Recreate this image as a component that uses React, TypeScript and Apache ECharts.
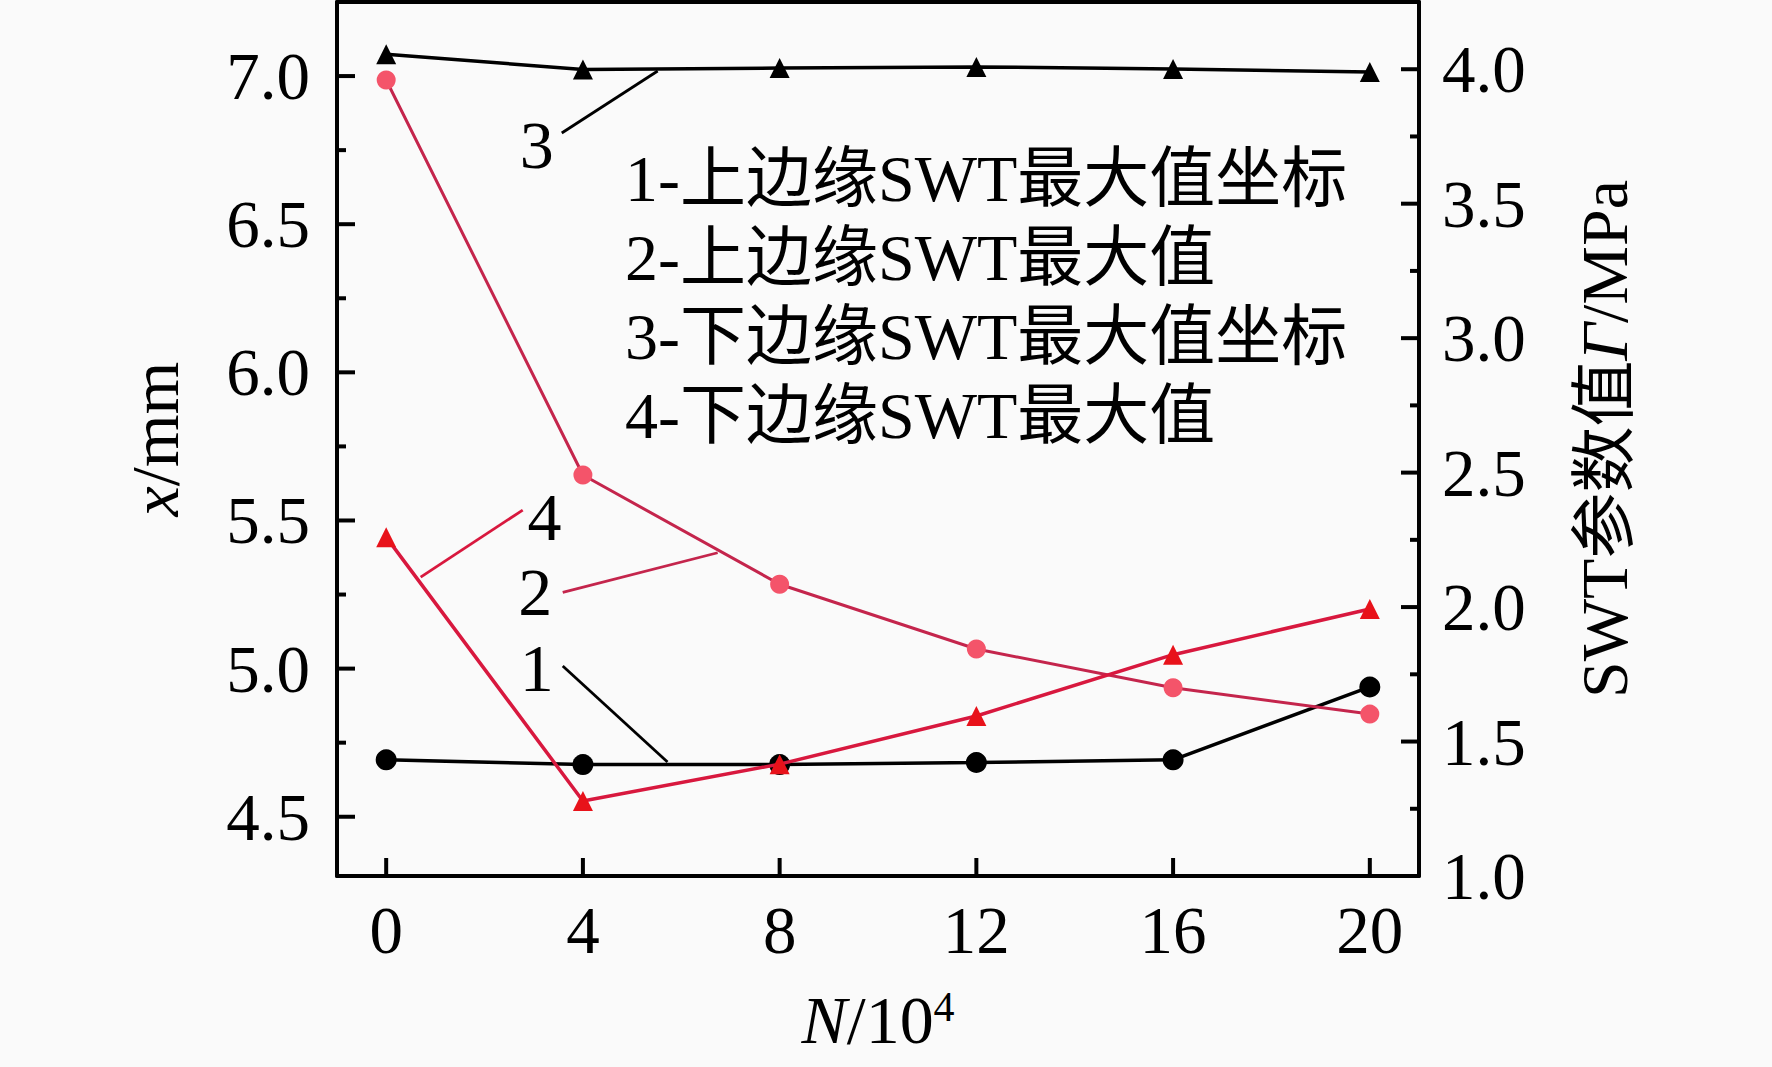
import React, { useEffect, useRef } from 'react';
import * as echarts from 'echarts';

// ---- data ----
const cycles = [0, 4, 8, 12, 16, 20]; // N / 10^4
const upperCoord = [4.692, 4.676, 4.676, 4.683, 4.692, 4.938]; // 1 - x/mm
const upperMax = [3.96, 2.491, 2.085, 1.844, 1.7, 1.602]; // 2 - MPa
const lowerCoord = [7.074, 7.022, 7.027, 7.031, 7.024, 7.014]; // 3 - x/mm
const lowerMax = [2.26, 1.279, 1.416, 1.595, 1.823, 1.993]; // 4 - MPa

const xTicks = [0, 4, 8, 12, 16, 20];
const leftMajor = [4.5, 5.0, 5.5, 6.0, 6.5, 7.0];
const leftMinor = [4.75, 5.25, 5.75, 6.25, 6.75];
const rightMajor = [1.0, 1.5, 2.0, 2.5, 3.0, 3.5, 4.0];
const rightMinor = [1.25, 1.75, 2.25, 2.75, 3.25, 3.75];

const legendLines = [
  '1-上边缘SWT最大值坐标',
  '2-上边缘SWT最大值',
  '3-下边缘SWT最大值坐标',
  '4-下边缘SWT最大值',
];

const BLACK = '#000000';
const PINK_LINE = '#c4254c';
const PINK_DOT = '#f4546a';
const RED_LINE = '#d8183e';
const RED_TRI = '#e8121a';

// annotation callouts (in left-axis data coordinates)
const callouts = [
  { label: '3', text: [3.06, 6.767], from: [3.57, 6.808], to: [5.52, 7.017], color: BLACK },
  { label: '4', text: [3.22, 5.512], from: [2.776, 5.535], to: [0.701, 5.309], color: RED_LINE },
  { label: '2', text: [3.03, 5.26], from: [3.59, 5.257], to: [6.74, 5.391], color: PINK_LINE },
  { label: '1', text: [3.06, 5.002], from: [3.59, 5.009], to: [5.72, 4.685], color: BLACK },
];

const FONT = "'Liberation Serif', 'Times New Roman', 'Noto Sans CJK SC', serif";

const LEFT_RANGE = { min: 4.3, max: 7.25 };
const RIGHT_RANGE = { min: 1.0, max: 4.25 };
const X_RANGE = { min: -1, max: 21 };

const MAJOR_LEN = 18;
const MINOR_LEN = 9;
const TICK_W = 4;

export default function App() {
  const ref = useRef<HTMLDivElement>(null);

  useEffect(() => {
    if (!ref.current) return;
    const chart = echarts.init(ref.current, null, { renderer: 'svg' });
    const axisLine = { show: true, onZero: false, lineStyle: { color: BLACK, width: 4 } };
    const tickLabel = { color: BLACK, fontSize: 67, fontFamily: FONT };

    const option: any = {
      animation: false,
      backgroundColor: '#fafafa',
      grid: { left: 337, right: 353, top: 2, bottom: 191 },
      xAxis: [
        {
          type: 'value',
          ...X_RANGE,
          position: 'bottom',
          axisLine,
          axisTick: { show: false },
          axisLabel: { ...tickLabel, margin: 20, customValues: xTicks },
          splitLine: { show: false },
          name: '{i|N}/10{s|4}',
          nameLocation: 'middle',
          nameGap: 110,
          nameTextStyle: {
            color: BLACK,
            fontSize: 68,
            fontFamily: FONT,
            rich: {
              i: { fontStyle: 'italic', fontSize: 68, fontFamily: FONT, color: BLACK },
              s: { fontSize: 42, fontFamily: FONT, color: BLACK, verticalAlign: 'top', lineHeight: 68 },
            },
          },
        },
        {
          type: 'value',
          ...X_RANGE,
          position: 'top',
          axisLine,
          axisTick: { show: false },
          axisLabel: { show: false },
          splitLine: { show: false },
        },
      ],
      yAxis: [
        {
          type: 'value',
          ...LEFT_RANGE,
          position: 'left',
          axisLine,
          axisTick: { show: false },
          axisLabel: { ...tickLabel, margin: 27, customValues: leftMajor, formatter: (v: number) => v.toFixed(1) },
          splitLine: { show: false },
          name: '{i|x}/mm',
          nameLocation: 'middle',
          nameRotate: 90,
          nameGap: 148,
          nameTextStyle: {
            color: BLACK,
            fontSize: 68,
            fontFamily: FONT,
            rich: { i: { fontStyle: 'italic', fontSize: 68, fontFamily: FONT, color: BLACK } },
          },
        },
        {
          type: 'value',
          ...RIGHT_RANGE,
          position: 'right',
          axisLine,
          axisTick: { show: false },
          axisLabel: { ...tickLabel, margin: 23, customValues: rightMajor, formatter: (v: number) => v.toFixed(1) },
          splitLine: { show: false },
          name: 'SWT参数值{i|Γ}/MPa',
          nameLocation: 'middle',
          nameRotate: 90,
          nameGap: 152,
          nameTextStyle: {
            color: BLACK,
            fontSize: 66,
            fontFamily: FONT,
            rich: { i: { fontStyle: 'italic', fontSize: 66, fontFamily: FONT, color: BLACK } },
          },
        },
      ],
      series: [
        {
          name: '1',
          type: 'line',
          xAxisIndex: 0,
          yAxisIndex: 0,
          data: cycles.map((c, i) => [c, upperCoord[i]]),
          symbol: 'circle',
          symbolSize: 21,
          lineStyle: { color: BLACK, width: 3.5 },
          itemStyle: { color: BLACK },
          z: 2,
          markLine: {
            silent: true,
            symbol: ['none', 'none'],
            label: { show: false },
            animation: false,
            data: callouts.map((c) => [
              { coord: c.from, lineStyle: { color: c.color, width: 2.8, type: 'solid' } },
              { coord: c.to },
            ]),
          },
          markPoint: {
            silent: true,
            animation: false,
            symbol: 'circle',
            symbolSize: 1,
            itemStyle: { color: 'rgba(0,0,0,0)' },
            label: { show: true, position: 'inside', formatter: '{b}', color: BLACK, fontSize: 68, fontFamily: FONT },
            data: callouts.map((c) => ({ name: c.label, coord: c.text })),
          },
        },
        {
          name: '3',
          type: 'line',
          xAxisIndex: 0,
          yAxisIndex: 0,
          data: cycles.map((c, i) => [c, lowerCoord[i]]),
          symbol: 'triangle',
          symbolSize: 20,
          lineStyle: { color: BLACK, width: 3.5 },
          itemStyle: { color: BLACK },
          z: 2,
        },
        {
          name: '2',
          type: 'line',
          xAxisIndex: 0,
          yAxisIndex: 1,
          data: cycles.map((c, i) => [c, upperMax[i]]),
          symbol: 'circle',
          symbolSize: 19,
          lineStyle: { color: PINK_LINE, width: 3 },
          itemStyle: { color: PINK_DOT },
          z: 3,
        },
        {
          name: '4',
          type: 'line',
          xAxisIndex: 0,
          yAxisIndex: 1,
          data: cycles.map((c, i) => [c, lowerMax[i]]),
          symbol: 'triangle',
          symbolSize: 20,
          lineStyle: { color: RED_LINE, width: 3.5 },
          itemStyle: { color: RED_TRI },
          z: 3,
        },
      ],
    };
    chart.setOption(option);

    // Ticks placed through the axes' own scales, drawn as thin filled rects
    const px = (v: number) => chart.convertToPixel({ xAxisIndex: 0 }, v) as number;
    const pyL = (v: number) => chart.convertToPixel({ yAxisIndex: 0 }, v) as number;
    const pyR = (v: number) => chart.convertToPixel({ yAxisIndex: 1 }, v) as number;
    const gLeft = px(X_RANGE.min);
    const gRight = px(X_RANGE.max);
    const gBottom = pyL(LEFT_RANGE.min);
    const rect = (x: number, y: number, width: number, height: number) => ({
      type: 'rect',
      silent: true,
      z: 100,
      shape: { x, y, width, height },
      style: { fill: BLACK },
    });
    const ticks: any[] = [
      ...leftMajor.map((v) => rect(gLeft, pyL(v) - TICK_W / 2, MAJOR_LEN, TICK_W)),
      ...leftMinor.map((v) => rect(gLeft, pyL(v) - TICK_W / 2, MINOR_LEN, TICK_W)),
      ...rightMajor
        .filter((v) => v > RIGHT_RANGE.min)
        .map((v) => rect(gRight - MAJOR_LEN, pyR(v) - TICK_W / 2, MAJOR_LEN, TICK_W)),
      ...rightMinor.map((v) => rect(gRight - MINOR_LEN, pyR(v) - TICK_W / 2, MINOR_LEN, TICK_W)),
      ...xTicks.map((v) => rect(px(v) - TICK_W / 2, gBottom - MAJOR_LEN, TICK_W, MAJOR_LEN)),
    ];

    chart.setOption({
      graphic: [
        {
          type: 'text',
          left: 625,
          top: 139,
          style: {
            text: legendLines.join('\n'),
            fontSize: 66,
            fontFamily: FONT,
            fill: BLACK,
            lineHeight: 79,
          },
        },
        ...ticks,
      ],
    });
    return () => chart.dispose();
  }, []);

  return (
    <div
      ref={ref}
      style={{ position: 'fixed', left: 0, top: 0, width: 1772, height: 1067 }}
    />
  );
}
